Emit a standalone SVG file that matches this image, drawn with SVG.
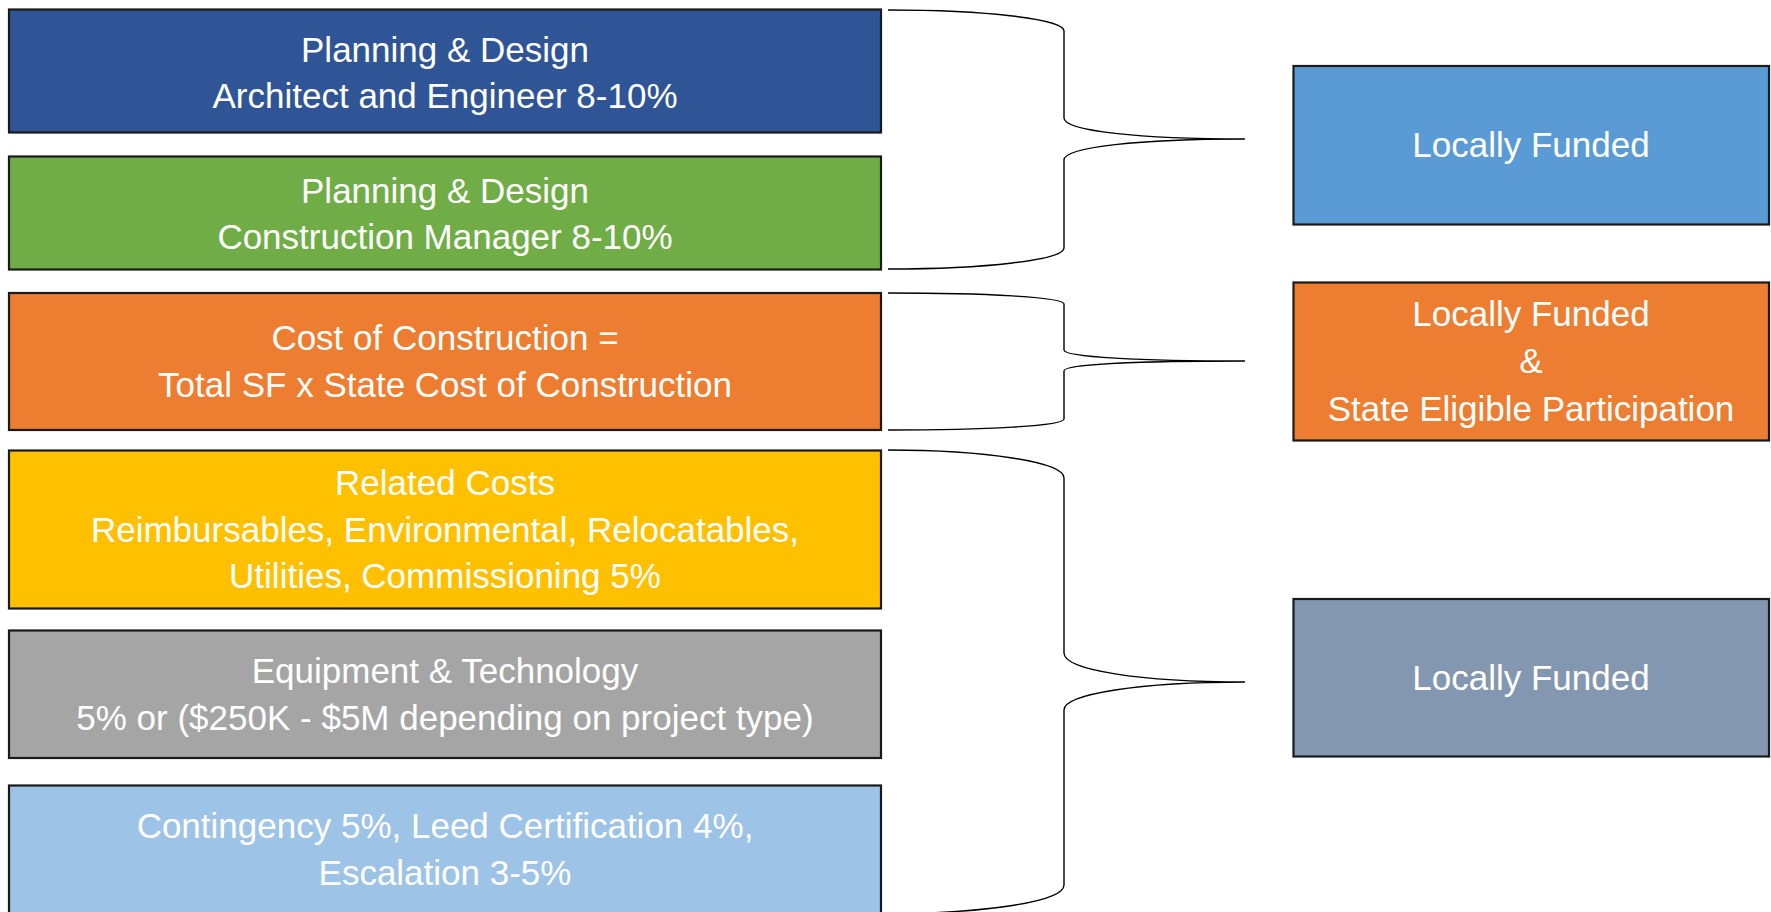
<svg xmlns="http://www.w3.org/2000/svg" width="1771" height="912" viewBox="0 0 1771 912">
<style>
.box{stroke:#1a1a1a;stroke-width:2.2}
.t{font-family:"Liberation Sans",Arial,sans-serif;font-size:35px;fill:#ffffff;text-anchor:middle}
.brace{fill:none;stroke:#000;stroke-width:1.4}
</style>
<rect width="1771" height="912" fill="#ffffff"/>
<g id="n1"><rect class="box" x="9" y="9.5" width="872" height="123" fill="#2F5597"/>
<text class="t" x="445" y="61.5">Planning &amp; Design</text><text class="t" x="445" y="108">Architect and Engineer 8-10%</text></g>
<g id="n2"><rect class="box" x="9" y="156.5" width="872" height="113" fill="#70AD47"/>
<text class="t" x="445" y="202.5">Planning &amp; Design</text><text class="t" x="445" y="249">Construction Manager 8-10%</text></g>
<g id="n3"><rect class="box" x="9" y="293" width="872" height="137" fill="#ED7D31"/>
<text class="t" x="445" y="350">Cost of Construction =</text><text class="t" x="445" y="396.5">Total SF x State Cost of Construction</text></g>
<g id="n4"><rect class="box" x="9" y="450.5" width="872" height="158" fill="#FFC000"/>
<text class="t" x="445" y="495">Related Costs</text><text class="t" x="445" y="541.5">Reimbursables, Environmental, Relocatables,</text><text class="t" x="445" y="588">Utilities, Commissioning 5%</text></g>
<g id="n5"><rect class="box" x="9" y="630.5" width="872" height="127.5" fill="#A5A5A5"/>
<text class="t" x="445" y="683">Equipment &amp; Technology</text><text class="t" x="445" y="730">5% or ($250K - $5M depending on project type)</text></g>
<g id="n6"><rect class="box" x="9" y="785.5" width="872" height="140" fill="#9DC3E6"/>
<text class="t" x="445" y="838">Contingency 5%, Leed Certification 4%,</text><text class="t" x="445" y="885">Escalation 3-5%</text></g>
<g id="r1"><rect class="box" x="1293.5" y="66" width="475.5" height="158.5" fill="#5B9BD5"/>
<text class="t" x="1531" y="156.5">Locally Funded</text></g>
<g id="r2"><rect class="box" x="1293.5" y="282.5" width="475.5" height="158" fill="#ED7D31"/>
<text class="t" x="1531" y="326">Locally Funded</text><text class="t" x="1531" y="372.5">&amp;</text><text class="t" x="1531" y="420.5">State Eligible Participation</text></g>
<g id="r3"><rect class="box" x="1293.5" y="599" width="475.5" height="157.5" fill="#8497B0"/>
<text class="t" x="1531" y="690">Locally Funded</text></g>
<g id="connectors">
<path class="brace" d="M888,10 C985,10 1064,19 1064,31 L1064,118 C1064,131 1140,139 1245,139 C1140,139 1064,147 1064,160 L1064,248 C1064,260 985,269 888,269"/>
<path class="brace" d="M888,293 C985,293 1064,297 1064,304 L1064,350 C1064,357 1140,361 1245,361 C1140,361 1064,364 1064,371 L1064,419 C1064,426 985,430 888,430"/>
<path class="brace" d="M888,450 C985,450 1064,462 1064,478 L1064,653 C1064,670 1140,682 1245,682 C1140,682 1064,694 1064,710 L1064,885 C1064,902 985,913 888,914"/>
</g>
</svg>
